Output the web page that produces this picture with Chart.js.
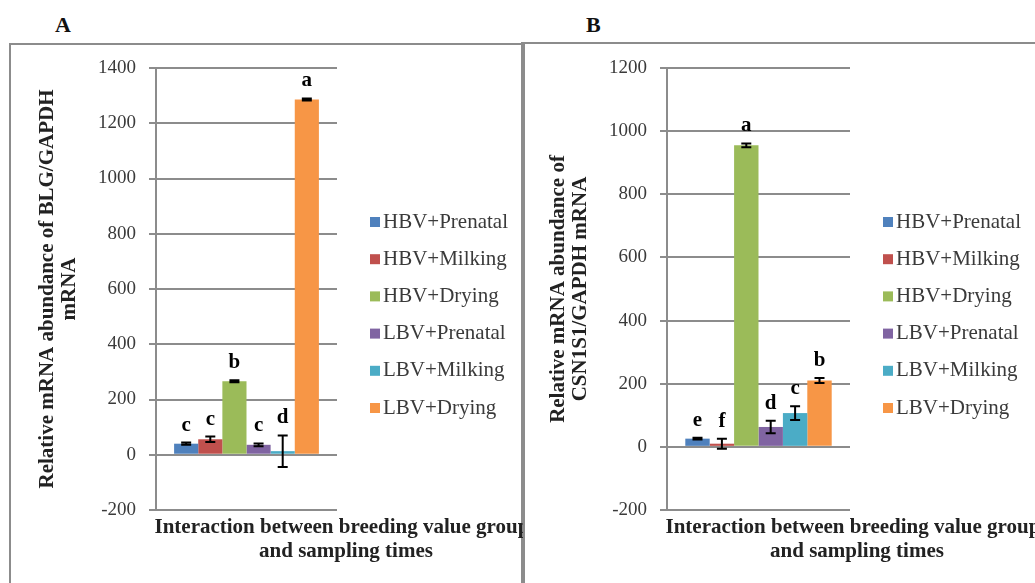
<!DOCTYPE html>
<html>
<head>
<meta charset="utf-8">
<script src="https://cdn.jsdelivr.net/npm/chart.js@4.4.0/dist/chart.umd.min.js"></script>
<style>
  body { margin: 0; background: #fff; }
  #page { position: relative; width: 1035px; height: 583px; overflow: hidden; font-family: "Liberation Serif", serif; }
  .panel { position: absolute; border: 2px solid #8c8c8c; border-bottom: none; }
  .tag { position: absolute; font-weight: bold; font-size: 22px; color: #111; }
  .wrap { position: absolute; top: 0; height: 583px; }
</style>
</head>
<body>
<div id="page">
  <div class="tag" style="left:55px; top:12px">A</div>
  <div class="tag" style="left:586px; top:12px">B</div>
  <div class="panel" style="left:9px; top:43px; width:512px; height:560px"></div>
  <div class="panel" style="left:521px; top:42px; width:560px; height:560px; border-right:none"></div>
  <div class="wrap" style="left:0; width:523px"><canvas id="chartA"></canvas></div>
  <div class="wrap" style="left:511px; width:524px"><canvas id="chartB"></canvas></div>
</div>
<script>
const groups = ["HBV+Prenatal", "HBV+Milking", "HBV+Drying", "LBV+Prenatal", "LBV+Milking", "LBV+Drying"];
const colors = ["#4F81BD", "#C0504D", "#9BBB59", "#8064A2", "#4BACC6", "#F79646"];

// panel A - BLG
const blgMeans = [40, 56, 266, 36, 13, 1286];
const blgErrors = [4, 10, 4, 5, 57, 4];
const blgLetters = ["c", "c", "b", "c", "d", "a"];

// panel B - CSN1S1
const csnMeans = [26, 10, 955, 63, 107, 210];
const csnErrors = [3, 16, 6, 20, 22, 8];
const csnLetters = ["e", "f", "a", "d", "c", "b"];

const xTitle = ["Interaction between breeding value groups", "and sampling times"];

Chart.defaults.font.family = '"Liberation Serif", "Times New Roman", serif';
Chart.defaults.color = "#3a3a3a";

// error bars + significance letters
const errorBars = {
  id: "errorBars",
  afterDatasetsDraw(chart, args, opts) {
    const ctx = chart.ctx;
    const y = chart.scales.y;
    chart.data.datasets.forEach((ds, i) => {
      const bar = chart.getDatasetMeta(i).data[0];
      const v = ds.data[0], e = opts.errors[i];
      const top = y.getPixelForValue(v + e);
      const bot = y.getPixelForValue(v - e);
      ctx.save();
      ctx.strokeStyle = "#000";
      ctx.lineWidth = 2;
      ctx.beginPath();
      ctx.moveTo(bar.x, top); ctx.lineTo(bar.x, bot);
      ctx.moveTo(bar.x - 5, top); ctx.lineTo(bar.x + 5, top);
      ctx.moveTo(bar.x - 5, bot); ctx.lineTo(bar.x + 5, bot);
      ctx.stroke();
      ctx.font = 'bold 21px "Liberation Serif"';
      ctx.fillStyle = "#000";
      ctx.textAlign = "center";
      ctx.textBaseline = "alphabetic";
      ctx.fillText(opts.letters[i], bar.x, top - 12);
      ctx.restore();
    });
  }
};

// legend on the right, Excel style
const sideLegend = {
  id: "sideLegend",
  afterDraw(chart) {
    const ctx = chart.ctx;
    const x0 = chart.chartArea.right + 33;
    ctx.save();
    ctx.font = '21px "Liberation Serif"';
    ctx.textBaseline = "middle";
    ctx.textAlign = "left";
    chart.data.datasets.forEach((ds, i) => {
      const yc = 222 + i * 37.2;
      ctx.fillStyle = ds.backgroundColor;
      ctx.fillRect(x0, yc - 5, 10, 10);
      ctx.fillStyle = "#3a3a3a";
      ctx.fillText(ds.label, x0 + 13, yc);
    });
    ctx.restore();
  }
};

// x axis title, centred under plot + legend
const bottomTitle = {
  id: "bottomTitle",
  afterDraw(chart) {
    const ctx = chart.ctx;
    const cx = chart.chartArea.left + 190;
    ctx.save();
    ctx.font = 'bold 21px "Liberation Serif"';
    ctx.fillStyle = "#222";
    ctx.textAlign = "center";
    ctx.textBaseline = "middle";
    ctx.fillText(xTitle[0], cx, 528);
    ctx.fillText(xTitle[1], cx, 552);
    ctx.restore();
  }
};

function makeChart(id, means, errors, letters, yTitle, yMax, padRight) {
  const datasets = groups.map((g, i) => ({
    label: g,
    data: [means[i]],
    backgroundColor: colors[i],
    borderWidth: 0,
    barPercentage: 1,
    categoryPercentage: 0.8
  }));
  return new Chart(document.getElementById(id), {
    type: "bar",
    data: { labels: [""], datasets },
    options: {
      responsive: true,
      maintainAspectRatio: false,
      animation: false,
      layout: { padding: { left: 0, top: 68, bottom: 73, right: padRight } },
      plugins: {
        legend: { display: false },
        tooltip: { enabled: false },
        errorBars: { errors, letters }
      },
      scales: {
        x: { display: false },
        y: {
          min: -200,
          max: yMax,
          afterFit(scale) { scale.width = 156; },
          ticks: {
            stepSize: 200,
            padding: 13,
            font: { size: 19 },
            color: "#3a3a3a",
            callback: (v) => String(v)
          },
          grid: { color: "#8c8c8c", lineWidth: 2, tickLength: 7, drawTicks: true },
          border: { display: true, color: "#8c8c8c", width: 2 },
          title: {
            display: true,
            text: yTitle,
            color: "#222",
            font: { size: 21, weight: "bold", lineHeight: 1.05 },
            padding: { top: 37, bottom: 0 }
          }
        }
      }
    },
    plugins: [errorBars, sideLegend, bottomTitle]
  });
}

makeChart("chartA", blgMeans, blgErrors, blgLetters,
  ["Relative mRNA abundance of BLG/GAPDH", "mRNA"], 1400, 186);
makeChart("chartB", csnMeans, csnErrors, csnLetters,
  ["Relative mRNA abundance of", "CSN1S1/GAPDH mRNA"], 1200, 185);
</script>
</body>
</html>
